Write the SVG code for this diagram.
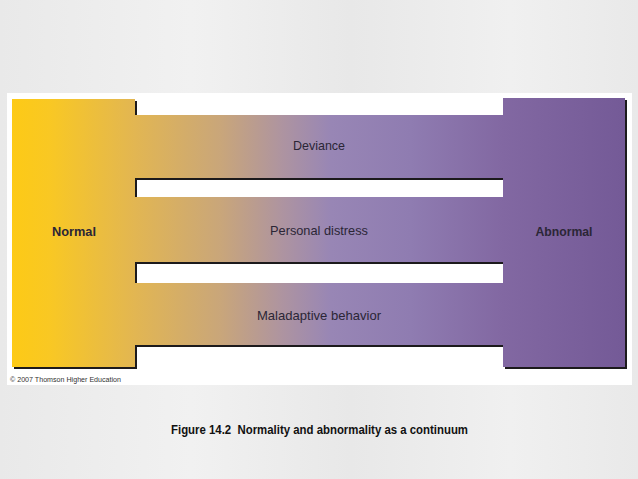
<svg xmlns="http://www.w3.org/2000/svg" width="638" height="479" viewBox="0 0 638 479">
  <defs>
    <linearGradient id="bg" x1="0" y1="0" x2="1" y2="0">
      <stop offset="0" stop-color="#e9e9e9"/>
      <stop offset="0.3" stop-color="#f1f1f1"/>
      <stop offset="0.55" stop-color="#e8e8e8"/>
      <stop offset="0.8" stop-color="#f0f0f0"/>
      <stop offset="1" stop-color="#e9e9e9"/>
    </linearGradient>
    <linearGradient id="band" gradientUnits="userSpaceOnUse" x1="12" y1="0" x2="625" y2="0">
      <stop offset="0" stop-color="#fdca16"/>
      <stop offset="0.06" stop-color="#f9c823"/>
      <stop offset="0.2" stop-color="#e2b652"/>
      <stop offset="0.34" stop-color="#c9a67a"/>
      <stop offset="0.44" stop-color="#ae94a0"/>
      <stop offset="0.52" stop-color="#9886b5"/>
      <stop offset="0.65" stop-color="#8f7cb1"/>
      <stop offset="0.8" stop-color="#8268a2"/>
      <stop offset="1" stop-color="#745a97"/>
    </linearGradient>
    <style>
      .lbl { font-family: "Liberation Sans", Arial, sans-serif; font-size: 13px; fill: #2b2636; text-anchor: middle; }
      .end { font-weight: bold; }
      .cap { font-family: "Liberation Sans", Arial, sans-serif; font-size: 12px; font-weight: bold; fill: #111111; }
      .copy { font-family: "Liberation Sans", Arial, sans-serif; font-size: 7px; fill: #333333; }
    </style>
  </defs>
  <rect x="0" y="0" width="638" height="479" fill="url(#bg)"/>
  <rect x="7" y="93" width="625" height="292" fill="#ffffff"/>
  <g id="continuum">
    <path d="M14,101 H137 V117 H505 V100 H627 V369 H505 V347 H137 V369 H14 Z M137,180 H505 V199 H137 Z M137,264 H505 V285 H137 Z" fill="#1c1a1c" fill-rule="evenodd"/>
    <path d="M12,99 H135 V115 H503 V98 H625 V367 H503 V345 H135 V367 H12 Z M135,178 H503 V197 H135 Z M135,262 H503 V283 H135 Z" fill="url(#band)" fill-rule="evenodd"/>
    <rect x="137" y="180" width="366" height="17" fill="#ffffff"/>
    <rect x="137" y="264" width="366" height="19" fill="#ffffff"/>
    <rect x="137" y="347" width="366" height="20" fill="#ffffff"/>
    <rect x="137" y="99" width="366" height="16" fill="#ffffff"/>
  </g>
  <g id="normal"><text class="lbl end" x="74" y="236" textLength="44" lengthAdjust="spacingAndGlyphs">Normal</text></g>
  <g id="abnormal"><text class="lbl end" x="564" y="236" textLength="57" lengthAdjust="spacingAndGlyphs">Abnormal</text></g>
  <g id="deviance"><text class="lbl" x="319" y="150" textLength="52" lengthAdjust="spacingAndGlyphs">Deviance</text></g>
  <g id="distress"><text class="lbl" x="319" y="235" textLength="98" lengthAdjust="spacingAndGlyphs">Personal distress</text></g>
  <g id="maladaptive"><text class="lbl" x="319" y="320" textLength="124" lengthAdjust="spacingAndGlyphs">Maladaptive behavior</text></g>
  <g id="connectors"></g>
  <text class="copy" x="10" y="382" textLength="111" lengthAdjust="spacingAndGlyphs">© 2007 Thomson Higher Education</text>
  <text class="cap" x="171" y="434" textLength="297" lengthAdjust="spacingAndGlyphs">Figure 14.2&#160; Normality and abnormality as a continuum</text>
</svg>
